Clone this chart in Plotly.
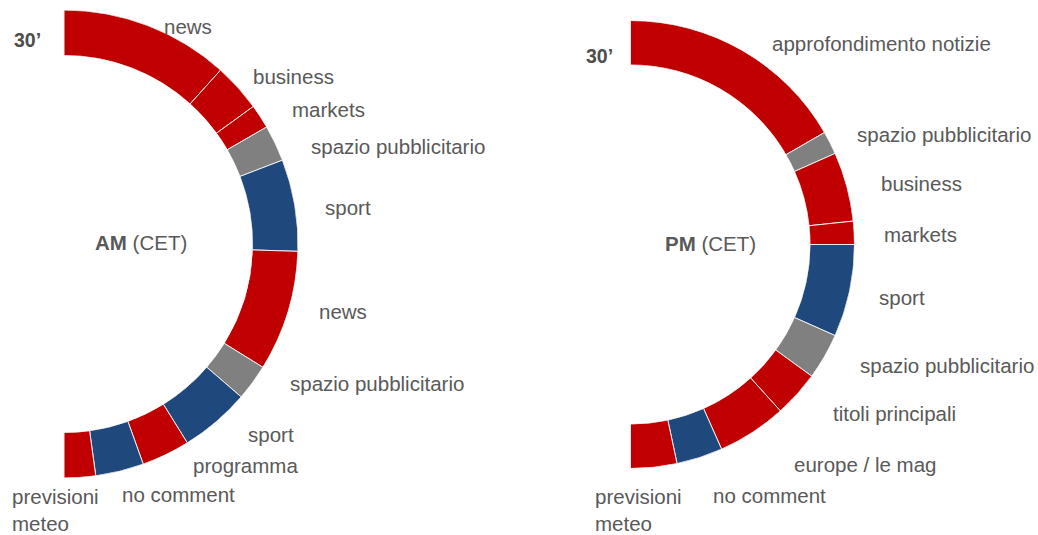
import numpy as np
import plotly.graph_objects as go

W, H = 1038, 535

# ---------------- data ----------------
am_programs = ["news", "business", "markets", "spazio pubblicitario", "sport",
               "news", "spazio pubblicitario", "sport", "programma",
               "no comment", "previsioni meteo"]
am_minutes = [7, 2, 1, 1.5, 3.8, 5, 1.5, 2.9, 2, 2, 1.3]

pm_programs = ["approfondimento notizie", "spazio pubblicitario", "business",
               "markets", "sport", "spazio pubblicitario", "titoli principali",
               "europe / le mag", "no comment", "previsioni meteo"]
pm_minutes = [10, 1, 3, 1, 4, 2, 2, 3, 2, 2]

total_minutes = 30
period_label = "30’"
am_title = "<b>AM</b> (CET)"
pm_title = "<b>PM</b> (CET)"

# ---------------- styles ----------------
RED, BLUE, GRAY = "#C00000", "#1F497D", "#808080"
color_of = {
    "news": RED, "business": RED, "markets": RED, "programma": RED,
    "previsioni meteo": RED, "approfondimento notizie": RED,
    "titoli principali": RED, "europe / le mag": RED,
    "spazio pubblicitario": GRAY,
    "sport": BLUE, "no comment": BLUE,
}
TXT = "#595959"
FONT = "Liberation Sans, Arial, sans-serif"
FS = 20.5

# label positions (pixel centres) for each segment label
am_label_pos = [(188, 26), (293, 77), (328, 109), (398, 147), (348, 207),
                (343, 311), (377, 384), (271, 434), (245, 465), (178, 494),
                (10, 510)]
pm_label_pos = [(881, 44), (944, 134), (921, 183), (920, 234), (902, 297),
                (947, 365), (894, 413), (865, 464), (769, 495), (593, 510)]

# ring geometry (pixels)
am_geo = dict(cx=64, cy=244, R=234, thick=45.5)
pm_geo = dict(cx=630.5, cy=244.5, R=224, thick=44.5)

fig = go.Figure()


def add_ring(programs, minutes, polar_id):
    m = np.asarray(minutes, dtype=float)
    deg = m * 180.0 / total_minutes
    start = np.concatenate([[0], np.cumsum(deg)[:-1]])
    fig.add_trace(go.Barpolar(
        r=[1] * len(m), theta=start + deg / 2, width=deg,
        marker=dict(color=[color_of[p] for p in programs],
                    line=dict(color="#EEEEEE", width=1)),
        subplot=polar_id, hoverinfo="skip", showlegend=False,
    ))


add_ring(am_programs, am_minutes, "polar")
add_ring(pm_programs, pm_minutes, "polar2")


def polar_layout(g):
    return dict(
        domain=dict(x=[g["cx"] / W, (g["cx"] + g["R"]) / W],
                    y=[(H - g["cy"] - g["R"]) / H, (H - g["cy"] + g["R"]) / H]),
        sector=[-90, 90],
        hole=(g["R"] - g["thick"]) / g["R"],
        bgcolor="rgba(0,0,0,0)",
        bargap=0,
        radialaxis=dict(range=[0, 1], visible=False),
        angularaxis=dict(rotation=90, direction="clockwise", visible=False,
                         showgrid=False, showline=False, ticks=""),
    )


annotations = []


def lab(text, x, y, size=FS, color=TXT, xanchor="center", align="center"):
    annotations.append(dict(
        text=text, x=x / W, y=1 - y / H, xref="paper", yref="paper",
        xanchor=xanchor, yanchor="middle", align=align, showarrow=False,
        font=dict(family=FONT, size=size, color=color)))


for names, pos in ((am_programs, am_label_pos), (pm_programs, pm_label_pos)):
    for name, (x, y) in zip(names, pos):
        if name == "previsioni meteo":
            lab("previsioni<br>meteo", x, y, xanchor="left", align="left")
        else:
            lab(name, x, y)

lab(f"<b>{period_label}</b>", 27, 40, size=19.5, color="#4D4D4D")
lab(f"<b>{period_label}</b>", 599, 56, size=19.5, color="#4D4D4D")
lab(am_title, 141, 242)
lab(pm_title, 710, 243)

fig.update_layout(
    width=W, height=H,
    margin=dict(l=0, r=0, t=0, b=0),
    paper_bgcolor="white", plot_bgcolor="white",
    polar=polar_layout(am_geo),
    polar2=polar_layout(pm_geo),
    annotations=annotations,
    showlegend=False,
)

fig.write_html("out.html")
